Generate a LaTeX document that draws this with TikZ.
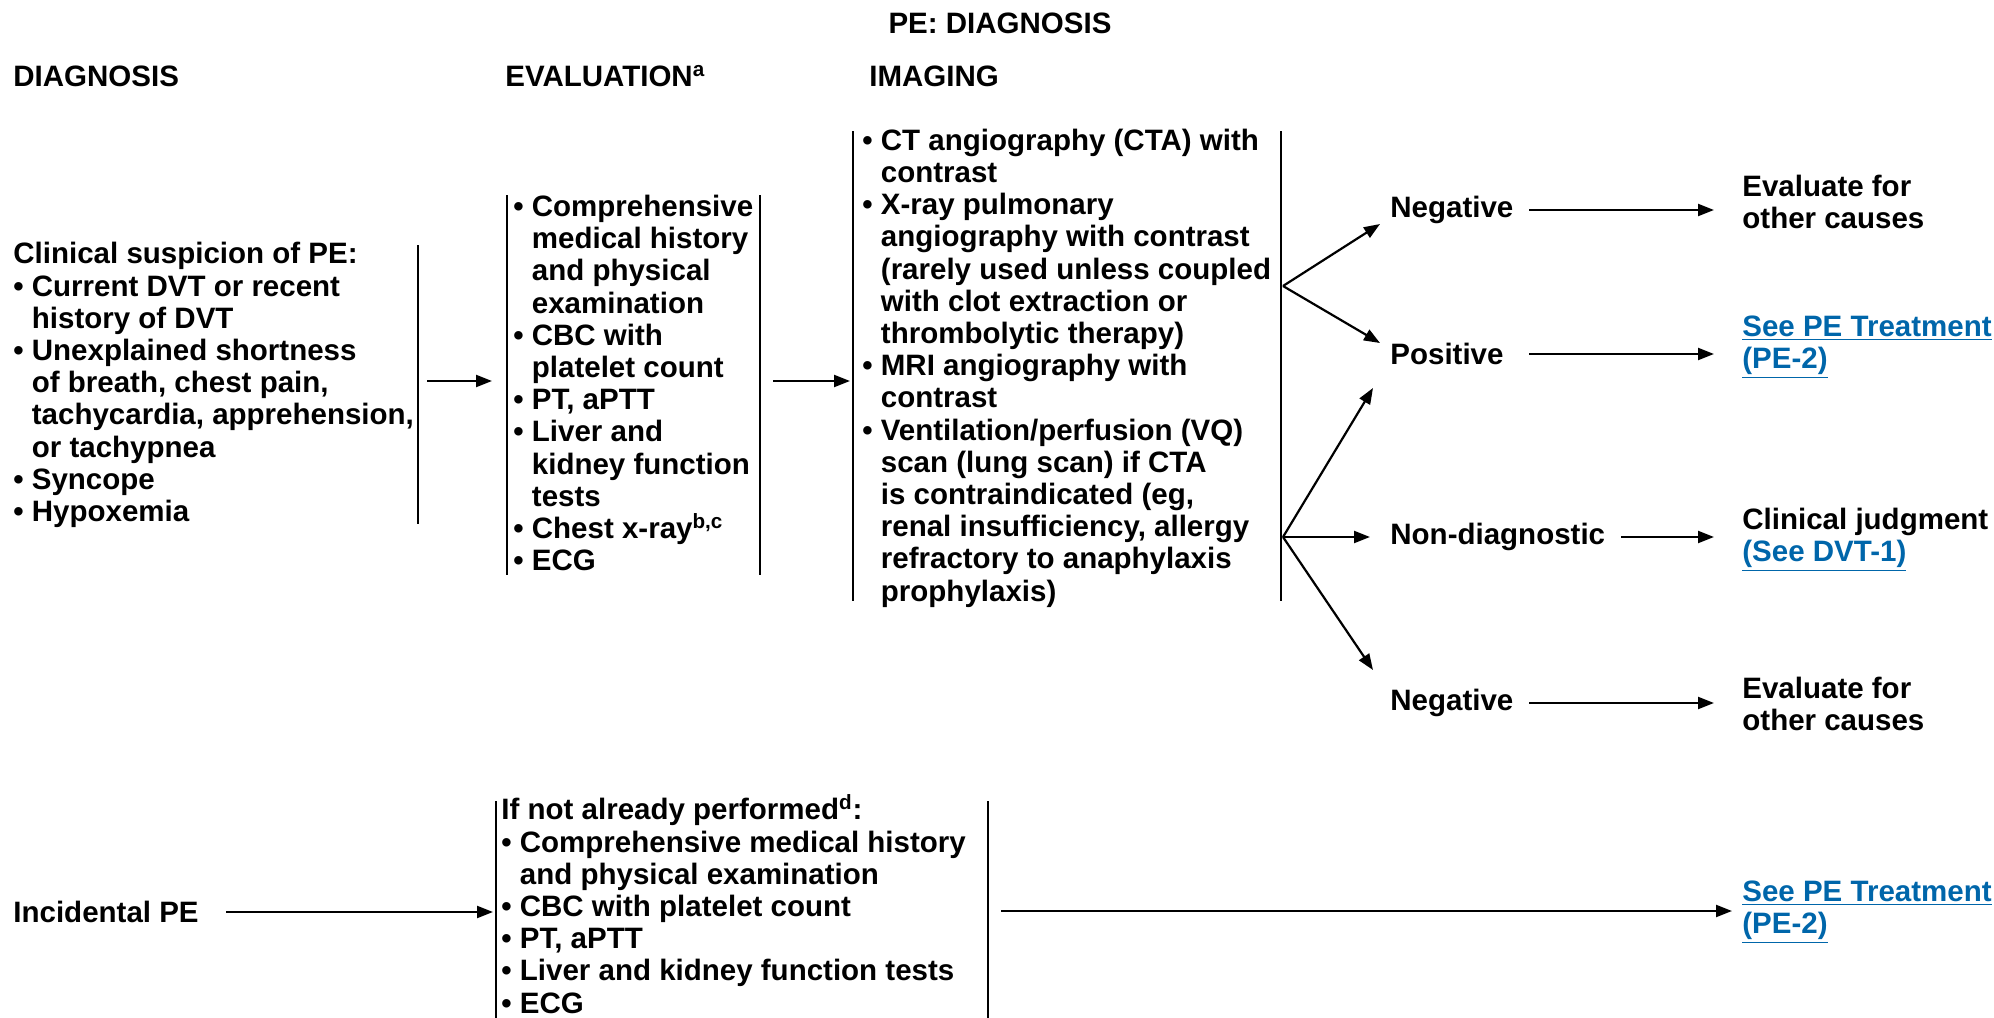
\documentclass[tikz,border=0pt]{standalone}
\usepackage{fontspec}
\setmainfont{Liberation Sans}
\usetikzlibrary{arrows.meta}
\definecolor{linkblue}{RGB}{0,102,170}
\newcommand{\pebul}{\textbullet\ }
\newcommand{\peind}{\hphantom{\textbullet\ }}

\begin{document}
\begin{tikzpicture}[x=0.5pt, y=-0.5pt,
  txt/.style={font=\bfseries\fontsize{14.75}{16.1}\selectfont, inner sep=0pt, align=left, anchor=west},
  lnk/.style={txt, text=linkblue},
  arr/.style={line width=1.1pt, -{Triangle[length=8pt,width=6pt]}},
  bar/.style={line width=1pt}]
  \useasboundingbox (0,0) rectangle (1994,1018);
  % headings
  \node[txt, anchor=center] (title) at (1000,23) {PE: DIAGNOSIS};
  \node[txt] (hdiag) at (13,76) {DIAGNOSIS};
  \node[txt] (heval) at (505,76) {EVALUATION\textsuperscript{a}};
  \node[txt] (himg) at (869,76) {IMAGING};
  % columns
  \node[txt] (diag) at (13,385) {Clinical suspicion of PE:\\
    \pebul Current DVT or recent\\ \peind history of DVT\\
    \pebul Unexplained shortness\\ \peind of breath, chest pain,\\
    \peind tachycardia, apprehension,\\ \peind or tachypnea\\
    \pebul Syncope\\ \pebul Hypoxemia};
  \node[txt] (eval) at (513,383) {\pebul Comprehensive\\ \peind medical history\\
    \peind and physical\\ \peind examination\\
    \pebul CBC with\\ \peind platelet count\\
    \pebul PT, aPTT\\
    \pebul Liver and\\ \peind kidney function\\ \peind tests\\
    \pebul Chest x-ray\textsuperscript{b,c}\\
    \pebul ECG};
  \node[txt] (img) at (862,368) {\pebul CT angiography (CTA) with\\ \peind contrast\\
    \pebul X-ray pulmonary\\ \peind angiography with contrast\\
    \peind (rarely used unless coupled\\ \peind with clot extraction or\\
    \peind thrombolytic therapy)\\
    \pebul MRI angiography with\\ \peind contrast\\
    \pebul Ventilation/perfusion (VQ)\\ \peind scan (lung scan) if CTA\\
    \peind is contraindicated (eg,\\ \peind renal insufficiency, allergy\\
    \peind refractory to anaphylaxis\\ \peind prophylaxis)};
  % results
  \node[txt] (neg1) at (1390,210) {Negative};
  \node[txt] (pos) at (1390,354) {Positive};
  \node[txt] (nondiag) at (1390,537) {Non-diagnostic};
  \node[txt] (neg2) at (1390,703) {Negative};
  \node[txt] (other1) at (1742,202) {Evaluate for\\other causes};
  \node[lnk] (treat1) at (1742,347) {\underline{See PE Treatment}\\\underline{(PE-2)}};
  \node[txt] (judg) at (1742,540) {Clinical judgment\\\textcolor{linkblue}{\underline{(See DVT-1)}}};
  \node[txt] (other2) at (1742,704) {Evaluate for\\other causes};
  % incidental
  \node[txt] (incid) at (13,912) {Incidental PE};
  \node[txt] (ieval) at (501,904) {If not already performed\textsuperscript{d}:\\
    \pebul Comprehensive medical history\\ \peind and physical examination\\
    \pebul CBC with platelet count\\
    \pebul PT, aPTT\\
    \pebul Liver and kidney function tests\\
    \pebul ECG};
  \node[lnk] (treat2) at (1742,912) {\underline{See PE Treatment}\\\underline{(PE-2)}};
  % bars
  \foreach \x/\a/\b in {418/245/524, 507/195/575, 760/195/575, 853/131/601,
      1281/131/601, 496/801/1018, 988/801/1018}
    \draw[bar] (\x,\a) -- (\x,\b);
  \coordinate (b1) at (418,381);
  \coordinate (b2) at (507,381);
  \coordinate (b3) at (760,381);
  \coordinate (b4) at (853,381);
  \coordinate (jn1) at (1283,286);
  \coordinate (jn2) at (1283,537);
  \coordinate (ib1) at (496,911);
  \coordinate (ib2) at (988,911);
  \coordinate (c1) at (1529,0);
  \coordinate (c2) at (1714,0);
  \coordinate (c3) at (1621,0);
  % arrows
  \draw[arr, shorten <=4.5pt, shorten >=7.5pt] (b1) -- (b2);
  \draw[arr, shorten <=6.5pt, shorten >=1.5pt] (b3) -- (b4);
  \draw[arr] (jn1) -- ([shift={(-10,14)}]neg1.west);
  \draw[arr] (jn1) -- ([shift={(-10,-11)}]pos.west);
  \draw[arr] (jn2) -- ([shift={(-17,34)}]pos.west);
  \draw[arr] (jn2) -- ([xshift=-10]nondiag.west);
  \draw[arr] (jn2) -- ([shift={(-17,-33)}]neg2.west);
  \draw[arr] (neg1 -| c1) -- (neg1 -| c2);
  \draw[arr] (pos -| c1) -- (pos -| c2);
  \draw[arr] (nondiag -| c3) -- (nondiag -| c2);
  \draw[arr] (neg2 -| c1) -- (neg2 -| c2);
  \draw[arr, shorten <=13.5pt, shorten >=1.5pt] (incid.east) -- (incid.east -| ib1);
  \draw[arr, shorten <=6.5pt, shorten >=5pt] (ib2) -- (ib2 -| treat2.west);
\end{tikzpicture}
\end{document}
